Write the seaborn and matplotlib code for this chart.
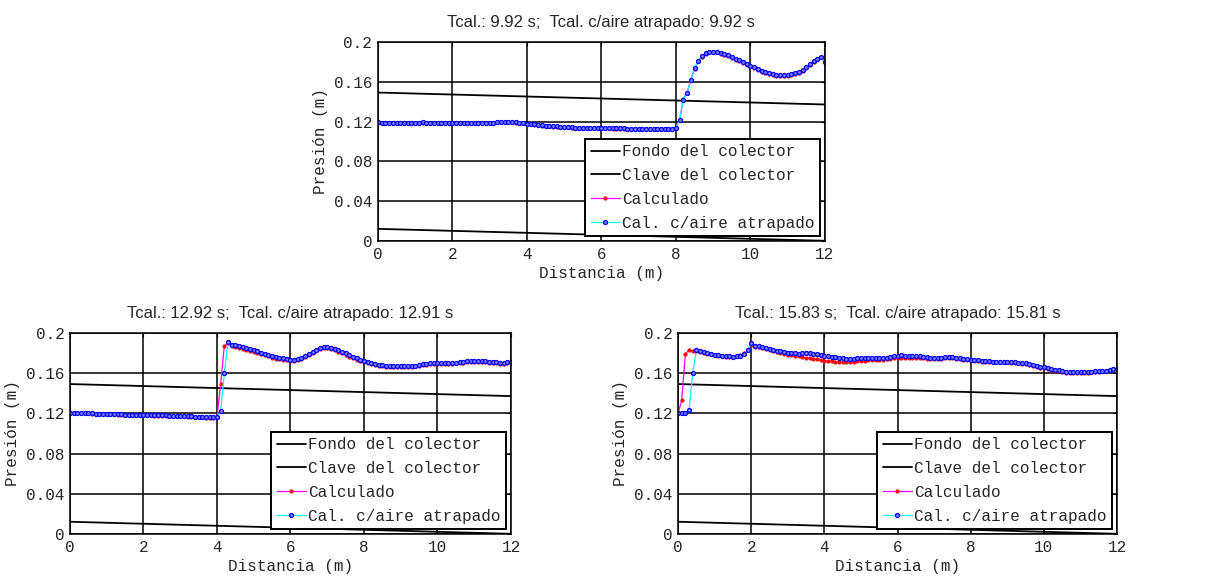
import numpy as np
import matplotlib
matplotlib.use("Agg")
import matplotlib.pyplot as plt
import seaborn as sns

# ---------------- data ----------------
dist = np.round(np.linspace(0, 12, 121), 1)

pipe_x = [0, 2, 4, 6, 8, 10, 12]
fondo = [0.0122, 0.0102, 0.0082, 0.0062, 0.0042, 0.0022, 0.0002]
clave = [0.1492, 0.1472, 0.1452, 0.1432, 0.1412, 0.1392, 0.1372]

titles = ["Tcal.: 9.92 s;  Tcal. c/aire atrapado: 9.92 s",
          "Tcal.: 12.92 s;  Tcal. c/aire atrapado: 12.91 s",
          "Tcal.: 15.83 s;  Tcal. c/aire atrapado: 15.81 s"]

xtick_vals = [0, 2, 4, 6, 8, 10, 12]
xtick_labels = ["0", "2", "4", "6", "8", "10", "12"]
ytick_vals = [0, 0.04, 0.08, 0.12, 0.16, 0.2]
ytick_labels = ["0", "0.04", "0.08", "0.12", "0.16", "0.2"]

# t = 9.92 s
aire_1 = [0.120, 0.119, 0.119, 0.119, 0.119, 0.119, 0.119, 0.119, 0.119, 0.119,
          0.119, 0.119, 0.120, 0.119, 0.119, 0.119, 0.119, 0.119, 0.119, 0.119,
          0.119, 0.119, 0.119, 0.119, 0.119, 0.119, 0.119, 0.119, 0.119, 0.119,
          0.119, 0.119, 0.120, 0.120, 0.120, 0.120, 0.120, 0.120, 0.119, 0.119,
          0.118, 0.118, 0.118, 0.117, 0.117, 0.116, 0.116, 0.116, 0.116, 0.115,
          0.115, 0.115, 0.115, 0.114, 0.114, 0.114, 0.114, 0.114, 0.114, 0.114,
          0.114, 0.114, 0.114, 0.114, 0.114, 0.114, 0.114, 0.113, 0.113, 0.113,
          0.113, 0.113, 0.113, 0.113, 0.113, 0.113, 0.113, 0.113, 0.113, 0.113,
          0.114, 0.122, 0.142, 0.149, 0.162, 0.174, 0.181, 0.186, 0.189, 0.190,
          0.190, 0.190, 0.189, 0.188, 0.187, 0.185, 0.183, 0.182, 0.180, 0.178,
          0.176, 0.175, 0.173, 0.171, 0.170, 0.169, 0.168, 0.167, 0.167, 0.167,
          0.167, 0.168, 0.169, 0.170, 0.172, 0.175, 0.178, 0.181, 0.183, 0.185,
          0.180]
calc_1 = [0.120, 0.119, 0.119, 0.119, 0.119, 0.119, 0.119, 0.119, 0.119, 0.119,
          0.119, 0.119, 0.119, 0.119, 0.119, 0.119, 0.119, 0.119, 0.119, 0.119,
          0.119, 0.119, 0.119, 0.119, 0.119, 0.119, 0.119, 0.119, 0.119, 0.119,
          0.119, 0.119, 0.120, 0.120, 0.120, 0.120, 0.120, 0.119, 0.119, 0.119,
          0.118, 0.118, 0.117, 0.117, 0.116, 0.116, 0.116, 0.115, 0.115, 0.115,
          0.115, 0.115, 0.114, 0.114, 0.114, 0.114, 0.114, 0.114, 0.114, 0.114,
          0.114, 0.114, 0.114, 0.113, 0.113, 0.113, 0.113, 0.113, 0.113, 0.113,
          0.113, 0.113, 0.113, 0.113, 0.113, 0.113, 0.113, 0.113, 0.113, 0.113,
          0.114, 0.122, 0.143, 0.149, 0.162, 0.173, 0.181, 0.185, 0.188, 0.190,
          0.190, 0.190, 0.188, 0.187, 0.186, 0.184, 0.182, 0.181, 0.179, 0.177,
          0.176, 0.174, 0.172, 0.170, 0.169, 0.168, 0.167, 0.166, 0.166, 0.166,
          0.166, 0.167, 0.168, 0.169, 0.171, 0.174, 0.177, 0.180, 0.183, 0.185,
          0.180]

# t = 12.92 s
aire_2 = [0.120, 0.120, 0.120, 0.120, 0.120, 0.120, 0.120, 0.119, 0.119, 0.119,
          0.119, 0.119, 0.119, 0.119, 0.119, 0.118, 0.118, 0.118, 0.118, 0.118,
          0.118, 0.118, 0.118, 0.118, 0.118, 0.118, 0.118, 0.117, 0.117, 0.117,
          0.117, 0.117, 0.117, 0.117, 0.116, 0.116, 0.116, 0.116, 0.116, 0.116,
          0.116, 0.122, 0.160, 0.191, 0.188, 0.188, 0.187, 0.186, 0.185, 0.184,
          0.183, 0.182, 0.180, 0.179, 0.178, 0.177, 0.176, 0.175, 0.175, 0.174,
          0.173, 0.173, 0.174, 0.175, 0.177, 0.179, 0.181, 0.183, 0.185, 0.186,
          0.186, 0.185, 0.184, 0.183, 0.181, 0.180, 0.178, 0.176, 0.175, 0.173,
          0.172, 0.171, 0.170, 0.169, 0.168, 0.168, 0.167, 0.167, 0.167, 0.167,
          0.167, 0.167, 0.167, 0.167, 0.167, 0.168, 0.169, 0.169, 0.170, 0.170,
          0.170, 0.170, 0.170, 0.170, 0.170, 0.170, 0.171, 0.171, 0.172, 0.172,
          0.172, 0.172, 0.172, 0.172, 0.171, 0.171, 0.171, 0.170, 0.170, 0.171,
          0.171]
calc_2 = [0.120, 0.120, 0.120, 0.120, 0.120, 0.120, 0.119, 0.119, 0.119, 0.119,
          0.119, 0.119, 0.119, 0.118, 0.118, 0.118, 0.118, 0.118, 0.118, 0.118,
          0.118, 0.118, 0.118, 0.117, 0.117, 0.117, 0.117, 0.117, 0.117, 0.117,
          0.117, 0.117, 0.116, 0.116, 0.116, 0.116, 0.116, 0.115, 0.115, 0.115,
          0.116, 0.149, 0.187, 0.190, 0.187, 0.186, 0.185, 0.184, 0.183, 0.182,
          0.181, 0.180, 0.179, 0.178, 0.177, 0.175, 0.174, 0.174, 0.173, 0.173,
          0.172, 0.172, 0.173, 0.174, 0.176, 0.178, 0.180, 0.182, 0.184, 0.185,
          0.185, 0.184, 0.183, 0.181, 0.180, 0.178, 0.176, 0.175, 0.173, 0.172,
          0.171, 0.170, 0.169, 0.168, 0.167, 0.167, 0.166, 0.166, 0.166, 0.166,
          0.166, 0.166, 0.166, 0.166, 0.167, 0.167, 0.168, 0.168, 0.169, 0.169,
          0.169, 0.169, 0.169, 0.169, 0.169, 0.170, 0.170, 0.170, 0.171, 0.171,
          0.171, 0.171, 0.171, 0.171, 0.170, 0.170, 0.170, 0.169, 0.169, 0.170,
          0.170]

# t = 15.83 s
aire_3 = [0.120, 0.120, 0.120, 0.123, 0.160, 0.183, 0.182, 0.181, 0.180, 0.179,
          0.178, 0.178, 0.177, 0.177, 0.177, 0.176, 0.177, 0.177, 0.179, 0.183,
          0.190, 0.187, 0.187, 0.186, 0.185, 0.184, 0.183, 0.182, 0.182, 0.181,
          0.180, 0.180, 0.180, 0.179, 0.180, 0.180, 0.180, 0.179, 0.179, 0.178,
          0.177, 0.177, 0.176, 0.176, 0.175, 0.175, 0.174, 0.174, 0.174, 0.175,
          0.175, 0.175, 0.175, 0.175, 0.175, 0.175, 0.175, 0.175, 0.176, 0.177,
          0.177, 0.178, 0.177, 0.177, 0.177, 0.177, 0.177, 0.176, 0.176, 0.175,
          0.175, 0.175, 0.175, 0.176, 0.176, 0.176, 0.175, 0.175, 0.174, 0.174,
          0.173, 0.173, 0.173, 0.172, 0.172, 0.172, 0.171, 0.171, 0.171, 0.171,
          0.171, 0.171, 0.171, 0.170, 0.170, 0.170, 0.169, 0.168, 0.167, 0.166,
          0.166, 0.165, 0.164, 0.163, 0.163, 0.162, 0.161, 0.161, 0.161, 0.161,
          0.161, 0.161, 0.161, 0.161, 0.162, 0.162, 0.162, 0.162, 0.163, 0.164,
          0.164]
calc_3 = [0.120, 0.133, 0.179, 0.183, 0.182, 0.182, 0.181, 0.180, 0.179, 0.179,
          0.178, 0.177, 0.177, 0.176, 0.176, 0.176, 0.177, 0.178, 0.180, 0.183,
          0.188, 0.186, 0.186, 0.185, 0.184, 0.183, 0.182, 0.181, 0.180, 0.179,
          0.178, 0.178, 0.177, 0.177, 0.176, 0.175, 0.175, 0.174, 0.174, 0.173,
          0.172, 0.172, 0.172, 0.171, 0.171, 0.171, 0.171, 0.171, 0.171, 0.172,
          0.172, 0.172, 0.173, 0.173, 0.173, 0.173, 0.173, 0.174, 0.174, 0.175,
          0.175, 0.175, 0.175, 0.175, 0.175, 0.175, 0.175, 0.175, 0.174, 0.174,
          0.174, 0.174, 0.174, 0.175, 0.175, 0.175, 0.174, 0.174, 0.173, 0.173,
          0.173, 0.172, 0.172, 0.171, 0.171, 0.171, 0.171, 0.171, 0.171, 0.171,
          0.171, 0.170, 0.170, 0.170, 0.169, 0.169, 0.168, 0.167, 0.166, 0.165,
          0.165, 0.164, 0.163, 0.162, 0.162, 0.161, 0.160, 0.160, 0.160, 0.160,
          0.160, 0.160, 0.160, 0.161, 0.161, 0.161, 0.162, 0.162, 0.163, 0.164,
          0.164]

aire_sets = [aire_1, aire_2, aire_3]
calc_sets = [calc_1, calc_2, calc_3]

# ---------------- style ----------------
sns.set_style("white")
plt.rcParams["font.family"] = ["Liberation Mono", "DejaVu Sans Mono"]
MONO = "Liberation Mono"
SANS = "Liberation Sans"
FS = 11.5

fig = plt.figure(figsize=(12.23, 5.76), dpi=100)
rects = [
    [0.309, 0.5816, 0.3655, 0.3455],
    [0.0572, 0.0729, 0.3606, 0.349],
    [0.5544, 0.0729, 0.3590, 0.349],
]

for i, r in enumerate(rects):
    ax = fig.add_axes(r)
    sns.lineplot(x=pipe_x, y=fondo, ax=ax, color="black", linewidth=1.3,
                 label="Fondo del colector")
    sns.lineplot(x=pipe_x, y=clave, ax=ax, color="black", linewidth=1.3,
                 label="Clave del colector")
    sns.lineplot(x=dist, y=calc_sets[i], ax=ax, color="magenta", linewidth=0.9,
                 marker=".", markersize=4.5, markerfacecolor="red",
                 markeredgecolor="red", label="Calculado")
    sns.lineplot(x=dist, y=aire_sets[i], ax=ax, color="cyan", linewidth=0.9,
                 marker="o", markersize=2.9, markerfacecolor="#8080ff",
                 markeredgecolor="blue", markeredgewidth=0.9,
                 label="Cal. c/aire atrapado")
    ax.set_xlim(0, 12)
    ax.set_ylim(0, 0.2)
    ax.set_xticks(xtick_vals)
    ax.set_xticklabels(xtick_labels)
    ax.set_yticks(ytick_vals)
    ax.set_yticklabels(ytick_labels)
    ax.grid(True, color="black", linewidth=1.1, linestyle="-")
    ax.set_axisbelow(True)
    ax.tick_params(direction="in", length=3, color="black", labelsize=FS,
                   pad=4, top=True, right=True)
    for lab in ax.get_xticklabels() + ax.get_yticklabels():
        lab.set_fontfamily(MONO)
    for s in ax.spines.values():
        s.set_color("black")
        s.set_linewidth(1.1)
    ax.set_xlabel("Distancia (m)", fontsize=FS, family=MONO, labelpad=3.5)
    ax.set_ylabel("Presión (m)", fontsize=FS, family=MONO, labelpad=4)
    ax.set_title(titles[i], fontsize=12, family=SANS, pad=10.5)
    leg = ax.legend(loc="lower right", prop={"family": MONO, "size": FS},
                    frameon=True, fancybox=False, framealpha=1,
                    edgecolor="black", borderaxespad=0.3, handlelength=1.8,
                    handletextpad=0.15, labelspacing=0.55, borderpad=0.35)
    leg.get_frame().set_linewidth(1.4)

fig.savefig("out.png", dpi=100)
